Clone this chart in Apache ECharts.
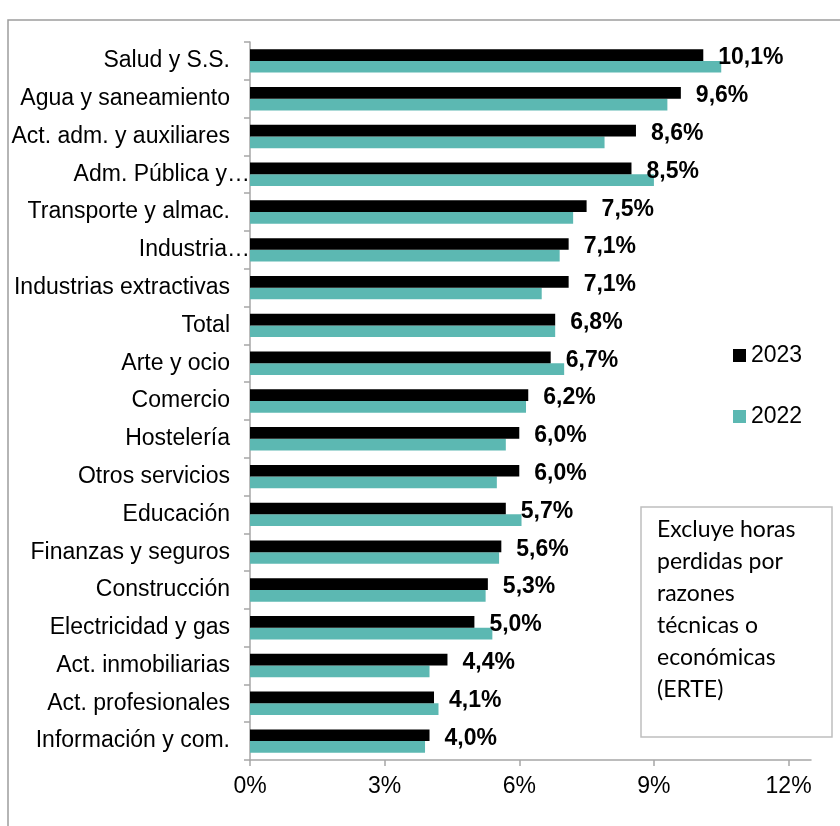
<!DOCTYPE html>
<html>
<head>
<meta charset="utf-8">
<script src="https://cdn.jsdelivr.net/npm/echarts@6/dist/echarts.min.js"></script>
<style>
  html, body { margin: 0; padding: 0; background: #ffffff; }
  #chart { width: 840px; height: 826px; }
</style>
</head>
<body>
<div id="chart"></div>
<script>
// Sectors, top to bottom
const sectors = [
  'Salud y S.S.', 'Agua y saneamiento', 'Act. adm. y auxiliares', 'Adm. Pública y…',
  'Transporte y almac.', 'Industria…', 'Industrias extractivas', 'Total',
  'Arte y ocio', 'Comercio', 'Hostelería', 'Otros servicios', 'Educación',
  'Finanzas y seguros', 'Construcción', 'Electricidad y gas', 'Act. inmobiliarias',
  'Act. profesionales', 'Información y com.'
];

// Rate of lost working hours (%)
const rate2023 = [10.1, 9.6, 8.6, 8.5, 7.5, 7.1, 7.1, 6.8, 6.7, 6.2, 6.0, 6.0, 5.7, 5.6, 5.3, 5.0, 4.4, 4.1, 4.0];
const rate2022 = [10.5, 9.3, 7.9, 9.0, 7.2, 6.9, 6.5, 6.8, 7.0, 6.15, 5.7, 5.5, 6.05, 5.55, 5.25, 5.4, 4.0, 4.2, 3.9];

const seriesNames = ['2023', '2022'];
const xTicks = [0, 3, 6, 9, 12];
const noteLines = ['Excluye horas', 'perdidas por', 'razones', 'técnicas o', 'económicas', '(ERTE)'];

const FONT = '"Liberation Sans", Arial, sans-serif';
const AXIS_GREY = '#a6a6a6';
const TEAL = '#5cb8b2';

const chart = echarts.init(document.getElementById('chart'), null, { renderer: 'canvas' });

const fmtPct = v => v.toFixed(1).replace('.', ',') + '%';

chart.setOption({
  animation: false,
  backgroundColor: '#ffffff',
  textStyle: { fontFamily: FONT },
  grid: { left: 250, right: 29, top: 42, bottom: 66, containLabel: false },
  legend: {
    data: seriesNames,
    orient: 'vertical',
    left: 733,
    top: 344,
    padding: 0,
    itemWidth: 13,
    itemHeight: 13,
    itemGap: 38,
    icon: 'rect',
    textStyle: { fontFamily: FONT, fontSize: 23, color: '#000' }
  },
  xAxis: {
    type: 'value',
    min: 0,
    max: 12.5,
    interval: 3,
    splitLine: { show: false },
    axisLine: { show: true, lineStyle: { color: AXIS_GREY, width: 1.5 } },
    axisTick: { show: true, customValues: xTicks, length: 6, lineStyle: { color: AXIS_GREY, width: 1.5 } },
    axisLabel: {
      customValues: xTicks,
      formatter: v => v + '%',
      fontFamily: FONT, fontSize: 23, color: '#000', margin: 15
    }
  },
  yAxis: {
    type: 'category',
    data: sectors,
    inverse: true,
    axisLine: { show: true, lineStyle: { color: AXIS_GREY, width: 1.5 } },
    axisTick: { show: true, length: 6, lineStyle: { color: AXIS_GREY, width: 1.5 } },
    axisLabel: {
      margin: 0,
      formatter: v => (v.endsWith('…') ? '{t|' + v + '}' : '{n|' + v + '}'),
      rich: {
        n: { fontFamily: FONT, fontSize: 23, color: '#000', padding: [0, 20, 0, 0] },
        t: { fontFamily: FONT, fontSize: 23, color: '#000', padding: [0, 0, 0, 0] }
      }
    }
  },
  series: [
    {
      name: seriesNames[0],
      type: 'bar',
      data: rate2023,
      barWidth: 11.7,
      barGap: '0%',
      itemStyle: { color: '#000000' },
      label: {
        show: true,
        position: 'right',
        distance: 15,
        offset: [0, 3],
        formatter: p => fmtPct(p.value),
        fontFamily: FONT, fontSize: 23, fontWeight: 'bold', color: '#000'
      },
      z: 3
    },
    {
      name: seriesNames[1],
      type: 'bar',
      data: rate2022,
      barWidth: 11.7,
      barGap: '0%',
      itemStyle: { color: TEAL },
      z: 2
    }
  ],
  graphic: [
    {
      type: 'rect',
      silent: true,
      shape: { x: 8, y: 20, width: 900, height: 900 },
      style: { fill: 'none', stroke: '#9d9d9d', lineWidth: 1.5 }
    },
    {
      type: 'rect',
      silent: true,
      shape: { x: 641, y: 507, width: 191, height: 230 },
      style: { fill: '#ffffff', stroke: '#bfbfbf', lineWidth: 1.5 }
    },
    {
      type: 'text',
      silent: true,
      x: 657,
      y: 514,
      style: {
        text: noteLines.join('\n'),
        fontFamily: 'Lato, "Open Sans", sans-serif',
        fontSize: 23,
        lineHeight: 32,
        fill: '#000'
      }
    }
  ]
});
</script>
</body>
</html>
